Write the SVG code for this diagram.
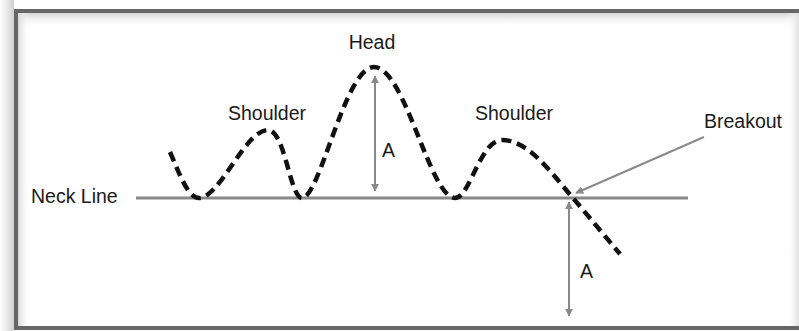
<svg xmlns="http://www.w3.org/2000/svg" width="799" height="331" viewBox="0 0 799 331">
  <defs>
    <linearGradient id="shTop" x1="0" y1="0" x2="0" y2="1">
      <stop offset="0" stop-color="#d4d4d4"/>
      <stop offset="1" stop-color="#ffffff" stop-opacity="0"/>
    </linearGradient>
    <linearGradient id="shLeft" x1="0" y1="0" x2="1" y2="0">
      <stop offset="0" stop-color="#d8d8d8"/>
      <stop offset="1" stop-color="#ffffff" stop-opacity="0"/>
    </linearGradient>
    <linearGradient id="shRight" x1="0" y1="0" x2="1" y2="0">
      <stop offset="0" stop-color="#ffffff" stop-opacity="0"/>
      <stop offset="1" stop-color="#e0e0e0"/>
    </linearGradient>
    <linearGradient id="outLeft" x1="0" y1="0" x2="1" y2="0">
      <stop offset="0" stop-color="#ffffff"/>
      <stop offset="1" stop-color="#d0d0d0"/>
    </linearGradient>
    <marker id="ah" viewBox="0 0 10 10" refX="9" refY="5" markerWidth="4" markerHeight="4" orient="auto-start-reverse" markerUnits="strokeWidth">
      <path d="M0,0 L10,5 L0,10 Z" fill="#8a8a8a"/>
    </marker>
    <style>
      .lbl { font-family: "Liberation Sans", Arial, sans-serif; font-size: 19.5px; fill: #1a1a1a; }
      .conn { stroke: #8a8a8a; stroke-width: 2; fill: none; }
      .curve { stroke: #111; stroke-width: 4.5; fill: none; stroke-dasharray: 10 6; }
    </style>
  </defs>
  <rect width="799" height="331" fill="#ffffff"/>
  <rect x="0" y="0" width="14" height="331" fill="url(#outLeft)"/>
  <g id="frame">
    <rect x="18" y="13" width="781" height="313" fill="#ffffff"/>
    <rect x="18" y="13" width="781" height="14" fill="url(#shTop)"/>
    <rect x="18" y="13" width="12" height="313" fill="url(#shLeft)"/>
    <rect x="786" y="13" width="13" height="313" fill="url(#shRight)"/>
    <rect x="16" y="11" width="800" height="317" fill="none" stroke="#666666" stroke-width="4"/>
  </g>
  <g id="neckline">
    <line x1="136" y1="198" x2="688" y2="198" stroke="#888888" stroke-width="3"/>
  </g>
  <g id="pattern">
    <path class="curve" d="M170,152 C180,175 188,198 199,198 C220,198 245,130 268,130 C285,130 290,198 302,198 C320,198 345,67 374,67 C405,67 430,198 455,198 C470,198 480,140 502,140 C530,140 555,178 573,198 L620,254"/>
  </g>
  <g id="connectors">
    <line class="conn" x1="375" y1="76" x2="375" y2="191" marker-start="url(#ah)" marker-end="url(#ah)"/>
    <line class="conn" x1="569" y1="202" x2="569" y2="316" marker-start="url(#ah)" marker-end="url(#ah)"/>
    <line class="conn" x1="704" y1="137" x2="576" y2="193" marker-end="url(#ah)"/>
  </g>
  <g id="labels">
    <text class="lbl" x="372" y="49" text-anchor="middle">Head</text>
    <text class="lbl" x="267" y="120" text-anchor="middle">Shoulder</text>
    <text class="lbl" x="514" y="120" text-anchor="middle">Shoulder</text>
    <text class="lbl" x="743" y="128" text-anchor="middle">Breakout</text>
    <text class="lbl" x="31" y="203">Neck Line</text>
    <text class="lbl" x="382" y="157">A</text>
    <text class="lbl" x="580" y="278">A</text>
  </g>
</svg>
